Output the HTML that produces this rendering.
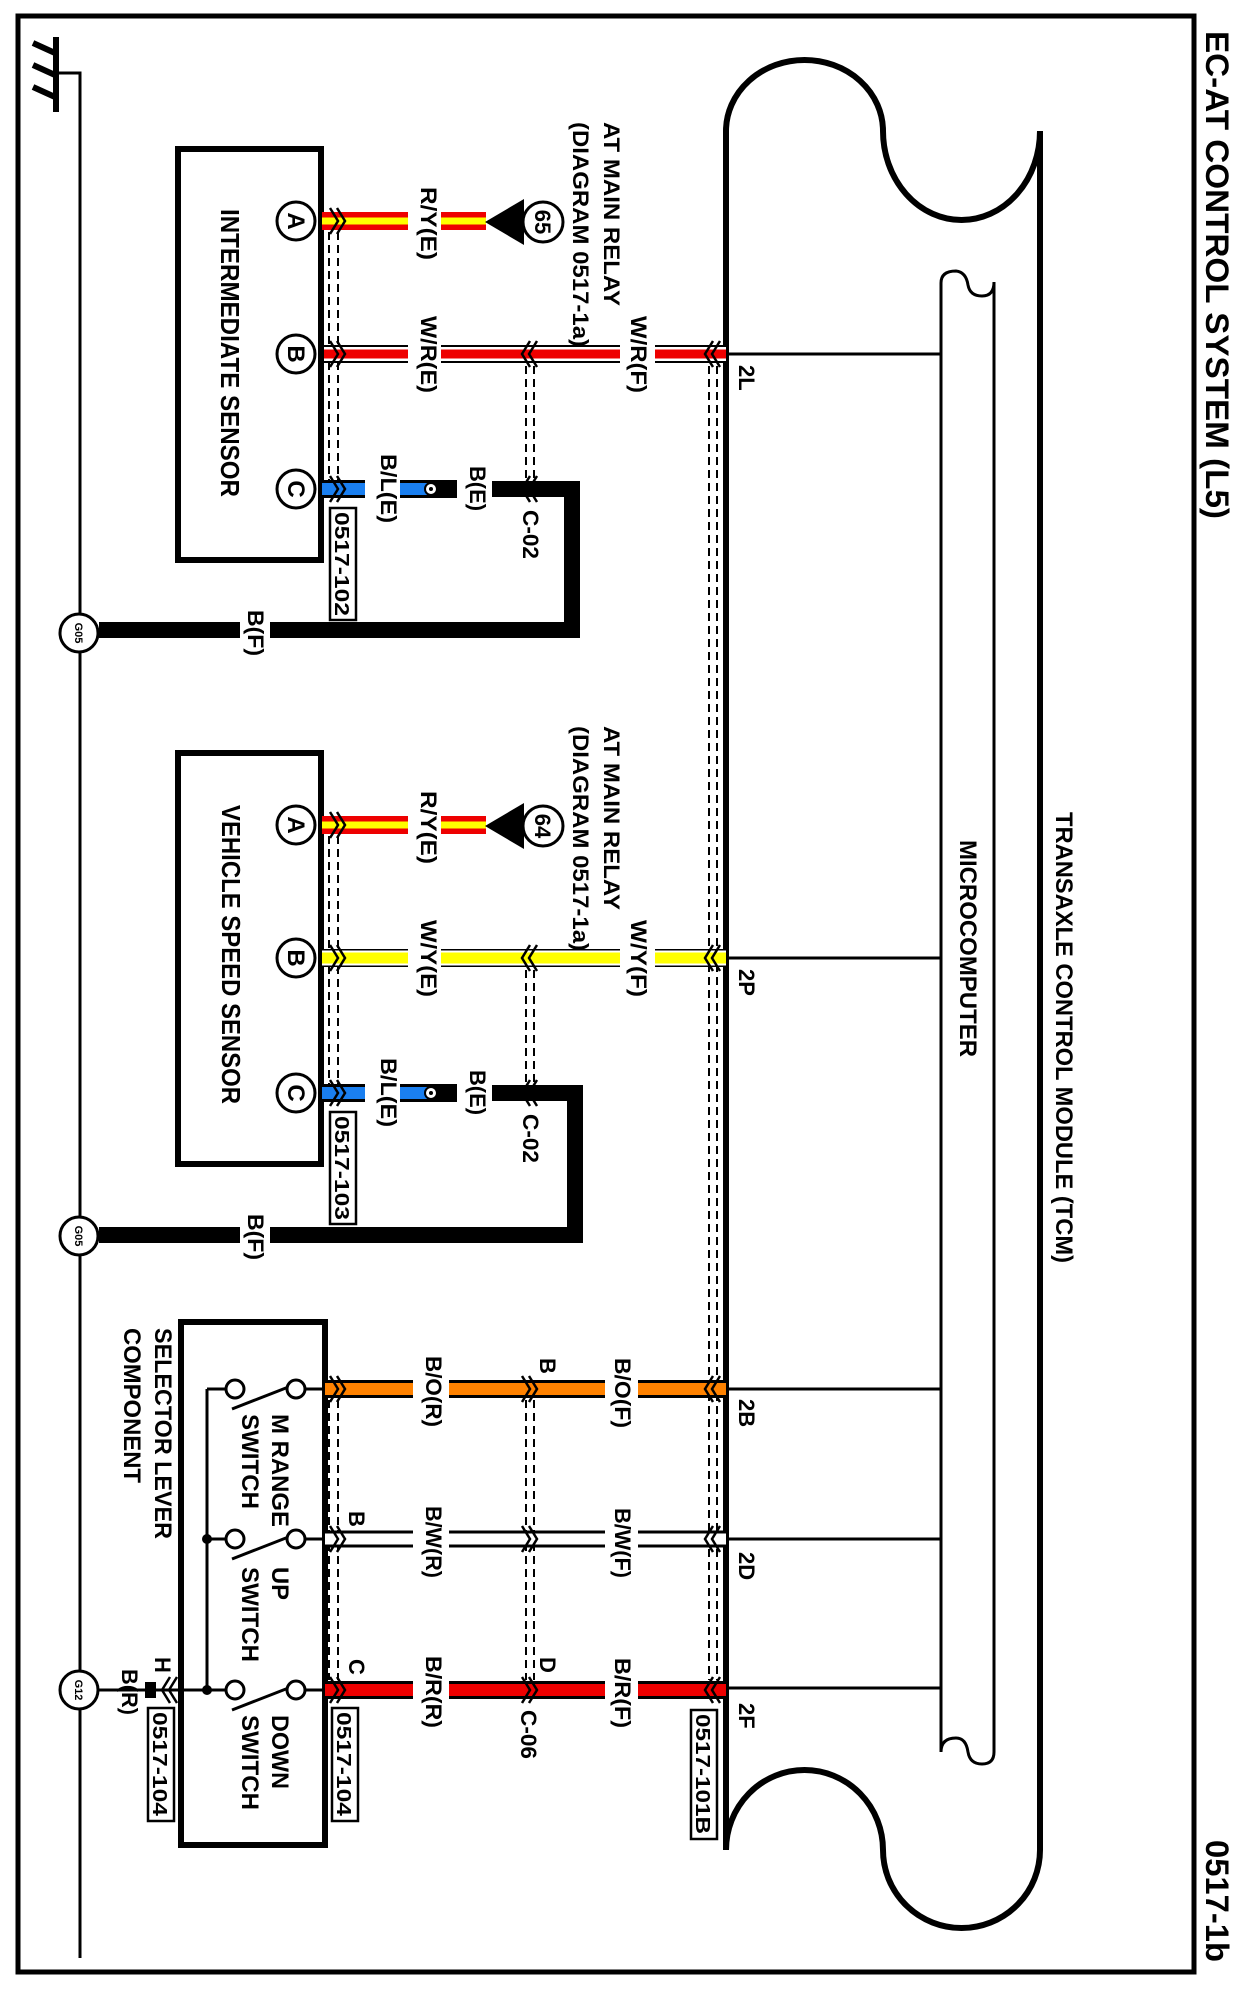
<!DOCTYPE html>
<html><head><meta charset="utf-8"><style>
html,body{margin:0;padding:0;background:#fff}
svg{display:block}
text{font-family:"Liberation Sans",Arial,sans-serif;fill:#000;font-weight:bold}
</style></head><body>
<svg width="1242" height="1998" viewBox="0 0 1242 1998" xmlns="http://www.w3.org/2000/svg">
<rect x="0" y="0" width="1242" height="1998" fill="#fff"/>
<rect x="18" y="16" width="1176" height="1956" fill="none" stroke="#000" stroke-width="5"/>
<text transform="translate(1206,31) rotate(90)" font-size="32" textLength="488" lengthAdjust="spacingAndGlyphs">EC-AT CONTROL SYSTEM (L5)</text>
<text transform="translate(1206,1840) rotate(90)" font-size="32" textLength="122" lengthAdjust="spacingAndGlyphs">0517-1b</text>

<g stroke="#000" fill="none">
<line x1="56" y1="37" x2="56" y2="112" stroke-width="6"/>
<line x1="33" y1="43" x2="55" y2="53" stroke-width="6"/>
<line x1="33" y1="65" x2="55" y2="75" stroke-width="6"/>
<line x1="33" y1="87" x2="55" y2="97" stroke-width="6"/>
<polyline points="56,73 80,73 80,1958" stroke-width="3"/>
</g>

<g fill="none" stroke="#000">
<path d="M726,1850 V131 A78.5 71 0 0 1 883,131 A78.5 89 0 0 0 1040,131 V1850 A78.5 78 0 0 1 883,1850 A78.5 80 0 0 0 726,1850" stroke-width="6"/>
<path d="M941,1752 V283 Q941,271 956,271 Q966,272 968,285 Q970,296 982,296 Q994,296 994,282 V1752 Q994,1764 982,1764 Q970,1764 968,1752 Q966,1738 956,1738 Q941,1738 941,1752" stroke-width="3"/>
<g stroke-width="3">
<line x1="726" y1="354" x2="941" y2="354"/>
<line x1="726" y1="958" x2="941" y2="958"/>
<line x1="726" y1="1389" x2="941" y2="1389"/>
<line x1="726" y1="1539" x2="941" y2="1539"/>
<line x1="726" y1="1688" x2="941" y2="1688"/>
</g>
</g>
<text transform="translate(1056,812) rotate(90)" font-size="24" textLength="451" lengthAdjust="spacingAndGlyphs">TRANSAXLE CONTROL MODULE (TCM)</text>
<text transform="translate(960,840) rotate(90)" font-size="24" textLength="217" lengthAdjust="spacingAndGlyphs">MICROCOMPUTER</text>
<g font-size="22">
<text transform="translate(739,365) rotate(90)">2L</text>
<text transform="translate(739,969) rotate(90)">2P</text>
<text transform="translate(739,1399) rotate(90)">2B</text>
<text transform="translate(739,1552) rotate(90)">2D</text>
<text transform="translate(739,1703) rotate(90)">2F</text>
</g>

<g stroke="#000" stroke-width="2" stroke-dasharray="8,5" fill="none">
<line x1="329" y1="232" x2="329" y2="480"/><line x1="338" y1="232" x2="338" y2="480"/>
<line x1="526" y1="366" x2="526" y2="480"/><line x1="534" y1="366" x2="534" y2="480"/>
<line x1="329" y1="836" x2="329" y2="1084"/><line x1="338" y1="836" x2="338" y2="1084"/>
<line x1="526" y1="970" x2="526" y2="1084"/><line x1="534" y1="970" x2="534" y2="1084"/>
<line x1="709" y1="366" x2="709" y2="1680"/><line x1="717" y1="366" x2="717" y2="1680"/>
<line x1="329" y1="1400" x2="329" y2="1680"/><line x1="338" y1="1400" x2="338" y2="1680"/>
<line x1="526" y1="1400" x2="526" y2="1680"/><line x1="534" y1="1400" x2="534" y2="1680"/>
</g>

<!-- wire B sensor 1 (W/R) -->
<line x1="322" y1="354" x2="726" y2="354" stroke="#000" stroke-width="18"/>
<line x1="322" y1="354" x2="726" y2="354" stroke="#fff" stroke-width="14"/>
<line x1="322" y1="354" x2="726" y2="354" stroke="#e00" stroke-width="9"/>

<g>
<rect x="178" y="149" width="143" height="411" fill="none" stroke="#000" stroke-width="6"/>
<line x1="322" y1="221" x2="486" y2="221" stroke="#e00" stroke-width="18"/>
<line x1="322" y1="221" x2="486" y2="221" stroke="#ff0" stroke-width="7"/>
<line x1="322" y1="489" x2="428" y2="489" stroke="#000" stroke-width="18"/>
<line x1="322" y1="489" x2="428" y2="489" stroke="#1a7ff0" stroke-width="12"/>
<line x1="428" y1="489" x2="490" y2="489" stroke="#000" stroke-width="18"/>
<circle cx="431" cy="489" r="6" fill="#fff" stroke="#000" stroke-width="2"/>
<circle cx="431" cy="489" r="2" fill="#000"/>
<path d="M490,489 H572 V630 H99" fill="none" stroke="#000" stroke-width="16"/>
<rect x="408" y="208" width="33" height="26" fill="#fff"/>
<rect x="408" y="341" width="33" height="26" fill="#fff"/>
<rect x="620" y="341" width="35" height="26" fill="#fff"/>
<rect x="365" y="476" width="35" height="26" fill="#fff"/>
<rect x="457" y="476" width="35" height="26" fill="#fff"/>
<rect x="240" y="618" width="30" height="26" fill="#fff"/>
<polygon points="485,222 524,199 524,245" fill="#000"/>
<g fill="#fff" stroke="#000" stroke-width="3">
<circle cx="296" cy="221" r="19"/><circle cx="296" cy="354" r="19"/><circle cx="296" cy="489" r="19"/>
<circle cx="79" cy="633" r="19"/>
<circle cx="543" cy="222" r="20"/>
</g>
<text transform="translate(535,222) rotate(90)" font-size="22" text-anchor="middle">65</text>
<g font-size="24" text-anchor="middle">
<text transform="translate(288,221) rotate(90)">A</text>
<text transform="translate(288,354) rotate(90)">B</text>
<text transform="translate(288,489) rotate(90)">C</text>
</g>
<text transform="translate(75,633) rotate(90)" font-size="11" text-anchor="middle">G05</text>
<rect x="330" y="508" width="26" height="112" fill="#fff" stroke="#000" stroke-width="2.5"/>
<g font-size="22">
<text transform="translate(421,187) rotate(90)" textLength="73" lengthAdjust="spacingAndGlyphs">R/Y(E)</text>
<text transform="translate(604,122) rotate(90)" textLength="184" lengthAdjust="spacingAndGlyphs">AT MAIN RELAY</text>
<text transform="translate(573,122) rotate(90)" textLength="225" lengthAdjust="spacingAndGlyphs">(DIAGRAM 0517-1a)</text>
<text transform="translate(421,316) rotate(90)" textLength="77" lengthAdjust="spacingAndGlyphs">W/R(E)</text>
<text transform="translate(631,316) rotate(90)" textLength="77" lengthAdjust="spacingAndGlyphs">W/R(F)</text>
<text transform="translate(381,454) rotate(90)" textLength="69" lengthAdjust="spacingAndGlyphs">B/L(E)</text>
<text transform="translate(470,466) rotate(90)" textLength="45" lengthAdjust="spacingAndGlyphs">B(E)</text>
<text transform="translate(523,510) rotate(90)" textLength="49" lengthAdjust="spacingAndGlyphs">C-02</text>
<text transform="translate(248,610) rotate(90)" textLength="46" lengthAdjust="spacingAndGlyphs">B(F)</text>
<text transform="translate(335,512) rotate(90)" font-size="20" textLength="104" lengthAdjust="spacingAndGlyphs">0517-102</text>
</g>
<text transform="translate(221,209) rotate(90)" font-size="26" textLength="288" lengthAdjust="spacingAndGlyphs">INTERMEDIATE SENSOR</text>
</g>

<g>
<rect x="178" y="753" width="143" height="411" fill="none" stroke="#000" stroke-width="6"/>
<line x1="322" y1="825" x2="486" y2="825" stroke="#e00" stroke-width="18"/>
<line x1="322" y1="825" x2="486" y2="825" stroke="#ff0" stroke-width="7"/>
<line x1="322" y1="1093" x2="428" y2="1093" stroke="#000" stroke-width="18"/>
<line x1="322" y1="1093" x2="428" y2="1093" stroke="#1a7ff0" stroke-width="12"/>
<line x1="428" y1="1093" x2="490" y2="1093" stroke="#000" stroke-width="18"/>
<circle cx="431" cy="1093" r="6" fill="#fff" stroke="#000" stroke-width="2"/>
<circle cx="431" cy="1093" r="2" fill="#000"/>
<path d="M490,1093 H575 V1235 H99" fill="none" stroke="#000" stroke-width="16"/>
<line x1="322" y1="958" x2="726" y2="958" stroke="#000" stroke-width="18"/>
<line x1="322" y1="958" x2="726" y2="958" stroke="#fff" stroke-width="15"/>
<line x1="322" y1="958" x2="726" y2="958" stroke="#ff0" stroke-width="11"/>
<rect x="408" y="812" width="33" height="26" fill="#fff"/>
<rect x="408" y="945" width="33" height="26" fill="#fff"/>
<rect x="620" y="945" width="35" height="26" fill="#fff"/>
<rect x="365" y="1080" width="35" height="26" fill="#fff"/>
<rect x="457" y="1080" width="35" height="26" fill="#fff"/>
<rect x="240" y="1222" width="30" height="26" fill="#fff"/>
<polygon points="485,826 524,803 524,849" fill="#000"/>
<g fill="#fff" stroke="#000" stroke-width="3">
<circle cx="296" cy="825" r="19"/><circle cx="296" cy="958" r="19"/><circle cx="296" cy="1093" r="19"/>
<circle cx="79" cy="1236" r="19"/>
<circle cx="543" cy="826" r="20"/>
</g>
<text transform="translate(535,826) rotate(90)" font-size="22" text-anchor="middle">64</text>
<g font-size="24" text-anchor="middle">
<text transform="translate(288,825) rotate(90)">A</text>
<text transform="translate(288,958) rotate(90)">B</text>
<text transform="translate(288,1093) rotate(90)">C</text>
</g>
<text transform="translate(75,1236) rotate(90)" font-size="11" text-anchor="middle">G05</text>
<rect x="330" y="1112" width="26" height="112" fill="#fff" stroke="#000" stroke-width="2.5"/>
<g font-size="22">
<text transform="translate(421,791) rotate(90)" textLength="73" lengthAdjust="spacingAndGlyphs">R/Y(E)</text>
<text transform="translate(604,726) rotate(90)" textLength="184" lengthAdjust="spacingAndGlyphs">AT MAIN RELAY</text>
<text transform="translate(573,726) rotate(90)" textLength="225" lengthAdjust="spacingAndGlyphs">(DIAGRAM 0517-1a)</text>
<text transform="translate(421,920) rotate(90)" textLength="77" lengthAdjust="spacingAndGlyphs">W/Y(E)</text>
<text transform="translate(631,920) rotate(90)" textLength="77" lengthAdjust="spacingAndGlyphs">W/Y(F)</text>
<text transform="translate(381,1058) rotate(90)" textLength="69" lengthAdjust="spacingAndGlyphs">B/L(E)</text>
<text transform="translate(470,1070) rotate(90)" textLength="45" lengthAdjust="spacingAndGlyphs">B(E)</text>
<text transform="translate(523,1114) rotate(90)" textLength="49" lengthAdjust="spacingAndGlyphs">C-02</text>
<text transform="translate(248,1214) rotate(90)" textLength="46" lengthAdjust="spacingAndGlyphs">B(F)</text>
<text transform="translate(335,1116) rotate(90)" font-size="20" textLength="104" lengthAdjust="spacingAndGlyphs">0517-103</text>
</g>
<text transform="translate(222,805) rotate(90)" font-size="26" textLength="299" lengthAdjust="spacingAndGlyphs">VEHICLE SPEED SENSOR</text>
</g>

<rect x="181" y="1322" width="144" height="523" fill="none" stroke="#000" stroke-width="6"/>
<line x1="325" y1="1389" x2="726" y2="1389" stroke="#000" stroke-width="18"/>
<line x1="325" y1="1389" x2="726" y2="1389" stroke="#ff8200" stroke-width="12"/>
<line x1="325" y1="1539" x2="726" y2="1539" stroke="#000" stroke-width="17"/>
<line x1="325" y1="1539" x2="726" y2="1539" stroke="#fff" stroke-width="11"/>
<line x1="325" y1="1690" x2="726" y2="1690" stroke="#000" stroke-width="18"/>
<line x1="325" y1="1690" x2="726" y2="1690" stroke="#e00" stroke-width="12"/>
<g fill="#fff">
<rect x="413" y="1376" width="36" height="26"/><rect x="605" y="1376" width="33" height="26"/>
<rect x="413" y="1526" width="36" height="26"/><rect x="605" y="1526" width="33" height="26"/>
<rect x="413" y="1677" width="36" height="26"/><rect x="605" y="1677" width="33" height="26"/>
</g>
<g stroke="#000" stroke-width="3" fill="none">
<line x1="305" y1="1389" x2="325" y2="1389"/><line x1="305" y1="1539" x2="325" y2="1539"/><line x1="305" y1="1690" x2="325" y2="1690"/>
<line x1="207" y1="1389" x2="226" y2="1389"/><line x1="207" y1="1539" x2="226" y2="1539"/><line x1="181" y1="1690" x2="226" y2="1690"/>
<line x1="207" y1="1389" x2="207" y2="1690"/>
<line x1="232" y1="1409" x2="291" y2="1386"/>
<line x1="232" y1="1559" x2="291" y2="1536"/>
<line x1="232" y1="1710" x2="291" y2="1687"/>
<line x1="98" y1="1690" x2="181" y2="1690"/>
</g>
<g fill="#fff" stroke="#000" stroke-width="3">
<circle cx="296" cy="1389" r="9"/><circle cx="235" cy="1389" r="9"/>
<circle cx="296" cy="1539" r="9"/><circle cx="235" cy="1539" r="9"/>
<circle cx="296" cy="1690" r="9"/><circle cx="235" cy="1690" r="9"/>
<circle cx="79" cy="1690" r="19"/>
</g>
<circle cx="207" cy="1539" r="5" fill="#000"/><circle cx="207" cy="1690" r="5" fill="#000"/>
<rect x="145" y="1682" width="11" height="16" fill="#000"/>
<text transform="translate(75,1690) rotate(90)" font-size="11" text-anchor="middle">G12</text>
<rect x="148" y="1708" width="26" height="113" fill="#fff" stroke="#000" stroke-width="2.5"/>
<rect x="332" y="1708" width="26" height="113" fill="#fff" stroke="#000" stroke-width="2.5"/>
<rect x="691" y="1710" width="26" height="129" fill="#fff" stroke="#000" stroke-width="2.5"/>
<g font-size="22">
<text transform="translate(153,1712) rotate(90)" font-size="20" textLength="104" lengthAdjust="spacingAndGlyphs">0517-104</text>
<text transform="translate(337,1712) rotate(90)" font-size="20" textLength="104" lengthAdjust="spacingAndGlyphs">0517-104</text>
<text transform="translate(696,1714) rotate(90)" font-size="20" textLength="120" lengthAdjust="spacingAndGlyphs">0517-101B</text>
<text transform="translate(426,1356) rotate(90)" textLength="71" lengthAdjust="spacingAndGlyphs">B/O(R)</text>
<text transform="translate(615,1358) rotate(90)" textLength="70" lengthAdjust="spacingAndGlyphs">B/O(F)</text>
<text transform="translate(540,1358) rotate(90)">B</text>
<text transform="translate(426,1506) rotate(90)" textLength="72" lengthAdjust="spacingAndGlyphs">B/W(R)</text>
<text transform="translate(615,1508) rotate(90)" textLength="70" lengthAdjust="spacingAndGlyphs">B/W(F)</text>
<text transform="translate(349,1511) rotate(90)">B</text>
<text transform="translate(426,1656) rotate(90)" textLength="72" lengthAdjust="spacingAndGlyphs">B/R(R)</text>
<text transform="translate(615,1658) rotate(90)" textLength="70" lengthAdjust="spacingAndGlyphs">B/R(F)</text>
<text transform="translate(349,1659) rotate(90)">C</text>
<text transform="translate(540,1657) rotate(90)">D</text>
<text transform="translate(521,1710) rotate(90)" textLength="49" lengthAdjust="spacingAndGlyphs">C-06</text>
<text transform="translate(155,1657) rotate(90)">H</text>
<text transform="translate(122,1669) rotate(90)" textLength="46" lengthAdjust="spacingAndGlyphs">B(R)</text>
</g>
<g font-size="24">
<text transform="translate(155,1328) rotate(90)" textLength="211" lengthAdjust="spacingAndGlyphs">SELECTOR LEVER</text>
<text transform="translate(124,1328) rotate(90)" textLength="155" lengthAdjust="spacingAndGlyphs">COMPONENT</text>
<text transform="translate(272,1414) rotate(90)" textLength="113" lengthAdjust="spacingAndGlyphs">M RANGE</text>
<text transform="translate(242,1414) rotate(90)" textLength="95" lengthAdjust="spacingAndGlyphs">SWITCH</text>
<text transform="translate(272,1567) rotate(90)" textLength="33" lengthAdjust="spacingAndGlyphs">UP</text>
<text transform="translate(242,1567) rotate(90)" textLength="95" lengthAdjust="spacingAndGlyphs">SWITCH</text>
<text transform="translate(272,1715) rotate(90)" textLength="74" lengthAdjust="spacingAndGlyphs">DOWN</text>
<text transform="translate(242,1715) rotate(90)" textLength="95" lengthAdjust="spacingAndGlyphs">SWITCH</text>
</g>

<g fill="none" stroke="#000" stroke-width="2.5">
<polyline points="330,208 338,221 330,234"/><polyline points="337,208 345,221 337,234"/>
<polyline points="330,341 338,354 330,367"/><polyline points="337,341 345,354 337,367"/>
<polyline points="330,476 338,489 330,502"/><polyline points="337,476 345,489 337,502"/>
<polyline points="330,812 338,825 330,838"/><polyline points="337,812 345,825 337,838"/>
<polyline points="330,945 338,958 330,971"/><polyline points="337,945 345,958 337,971"/>
<polyline points="330,1080 338,1093 330,1106"/><polyline points="337,1080 345,1093 337,1106"/>
<polyline points="330,1376 338,1389 330,1402"/><polyline points="337,1376 345,1389 337,1402"/>
<polyline points="330,1526 338,1539 330,1552"/><polyline points="337,1526 345,1539 337,1552"/>
<polyline points="330,1677 338,1690 330,1703"/><polyline points="337,1677 345,1690 337,1703"/>
<polyline points="530,341 522,354 530,367"/><polyline points="537,341 529,354 537,367"/>
<polyline points="530,476 522,489 530,502"/><polyline points="537,476 529,489 537,502"/>
<polyline points="530,945 522,958 530,971"/><polyline points="537,945 529,958 537,971"/>
<polyline points="530,1080 522,1093 530,1106"/><polyline points="537,1080 529,1093 537,1106"/>
<polyline points="522,1376 530,1389 522,1402"/><polyline points="529,1376 537,1389 529,1402"/>
<polyline points="522,1526 530,1539 522,1552"/><polyline points="529,1526 537,1539 529,1552"/>
<polyline points="522,1677 530,1690 522,1703"/><polyline points="529,1677 537,1690 529,1703"/>
<polyline points="713,341 705,354 713,367"/><polyline points="720,341 712,354 720,367"/>
<polyline points="713,945 705,958 713,971"/><polyline points="720,945 712,958 720,971"/>
<polyline points="713,1376 705,1389 713,1402"/><polyline points="720,1376 712,1389 720,1402"/>
<polyline points="713,1526 705,1539 713,1552"/><polyline points="720,1526 712,1539 720,1552"/>
<polyline points="713,1677 705,1690 713,1703"/><polyline points="720,1677 712,1690 720,1703"/>
<polyline points="170,1677 162,1690 170,1703"/><polyline points="177,1677 169,1690 177,1703"/>
</g>
</svg>
</body></html>
